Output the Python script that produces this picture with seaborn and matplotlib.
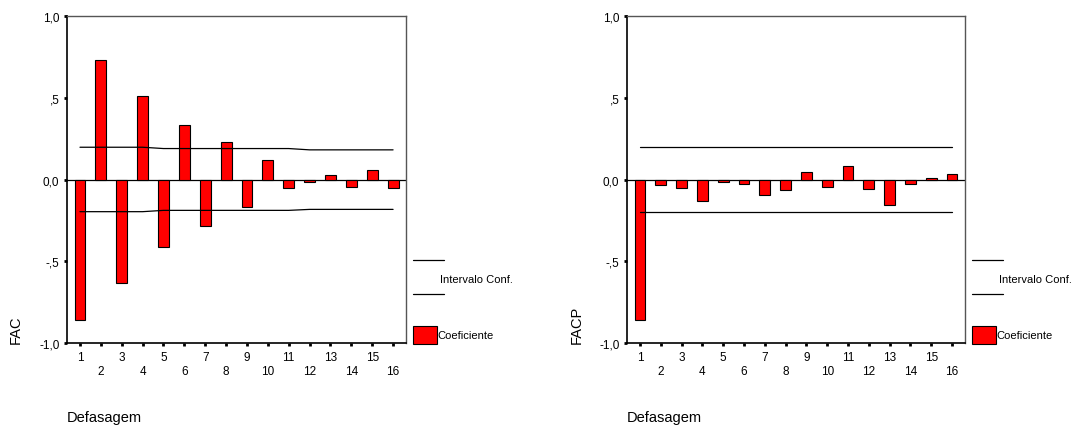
import numpy as np
import pandas as pd
import matplotlib
matplotlib.use("Agg")
import matplotlib.pyplot as plt
import seaborn as sns
from matplotlib.lines import Line2D
from matplotlib.patches import Rectangle

sns.set_style("white")
plt.rcParams['font.family'] = ['Liberation Sans', 'DejaVu Sans']
plt.rcParams['text.color'] = 'black'
plt.rcParams['xtick.color'] = 'black'
plt.rcParams['ytick.color'] = 'black'

# dados
defasagem = list(range(1, 17))
fac = [-0.86, 0.733, -0.635, 0.514, -0.414, 0.331, -0.282, 0.233,
       -0.169, 0.118, -0.051, -0.016, 0.027, -0.043, 0.057, -0.051]
fac_sup = [0.198, 0.198, 0.198, 0.198, 0.19, 0.19, 0.19, 0.19,
           0.19, 0.19, 0.19, 0.182, 0.182, 0.182, 0.182, 0.182]
fac_inf = [-0.196, -0.196, -0.196, -0.196, -0.188, -0.188, -0.188, -0.188,
           -0.188, -0.188, -0.188, -0.182, -0.182, -0.182, -0.182, -0.182]
facp = [-0.86, -0.035, -0.051, -0.133, -0.014, -0.029, -0.092, -0.063,
        0.049, -0.043, 0.086, -0.057, -0.155, -0.029, 0.012, 0.037]
facp_sup = [0.198] * 16
facp_inf = [-0.196] * 16

yticks = [-1.0, -0.5, 0.0, 0.5, 1.0]
ytick_labels = ['-1,0', '-,5', '0,0', ',5', '1,0']
xtick_labels = [str(k) if k % 2 == 1 else '\n' + str(k) for k in defasagem]

fig = plt.figure(figsize=(10.83, 4.27), dpi=100)
ax1 = fig.add_axes([0.0619, 0.194, 0.313, 0.766])
ax2 = fig.add_axes([0.579, 0.194, 0.312, 0.766])


def painel(ax, valores, sup, inf, rotulo):
    df = pd.DataFrame({'lag': defasagem, 'coef': valores})
    sns.barplot(data=df, x='lag', y='coef', ax=ax, native_scale=True,
                color='#ff0000', saturation=1, width=0.52,
                edgecolor='black', linewidth=0.8, zorder=2)
    sns.lineplot(x=defasagem, y=sup, ax=ax, color='black', lw=0.9, zorder=3)
    sns.lineplot(x=defasagem, y=inf, ax=ax, color='black', lw=0.9, zorder=3)
    ax.axhline(0, color='black', lw=0.9, zorder=1)
    ax.set_xlim(0.38, 16.62)
    ax.set_ylim(-1.0, 1.0)
    ax.set_xticks(defasagem)
    ax.set_xticklabels(xtick_labels, fontsize=8.5)
    ax.set_yticks(yticks)
    ax.set_yticklabels(ytick_labels, fontsize=8.5)
    ax.tick_params(axis='both', bottom=True, left=True, direction='out',
                   length=2.5, width=2, color='black', pad=3)
    for s in ['left', 'bottom']:
        ax.spines[s].set_color('black')
        ax.spines[s].set_linewidth(1.2)
    for s in ['top', 'right']:
        ax.spines[s].set_color('#555555')
        ax.spines[s].set_linewidth(1.0)
    ax.set_xlabel('')
    ax.set_ylabel('')
    ax.text(-0.15, 0.0, rotulo, transform=ax.transAxes, rotation=90,
            fontsize=10.5, ha='center', va='bottom')
    ax.text(0.0, -0.225, 'Defasagem', transform=ax.transAxes,
            fontsize=10.5, ha='left', va='center')
    # legenda
    for yy in [0.254, 0.150]:
        ax.add_line(Line2D([1.021, 1.112], [yy, yy], transform=ax.transAxes,
                           color='black', lw=0.9, clip_on=False))
    ax.text(1.10, 0.195, 'Intervalo Conf.', transform=ax.transAxes,
            fontsize=8, ha='left', va='center')
    ax.add_patch(Rectangle((1.021, -0.003), 0.07, 0.055, transform=ax.transAxes,
                           facecolor='#ff0000', edgecolor='black', lw=0.8,
                           clip_on=False))
    ax.text(1.092, 0.024, 'Coeficiente', transform=ax.transAxes,
            fontsize=8, ha='left', va='center')


painel(ax1, fac, fac_sup, fac_inf, 'FAC')
painel(ax2, facp, facp_sup, facp_inf, 'FACP')

fig.savefig('out.png', dpi=100)
